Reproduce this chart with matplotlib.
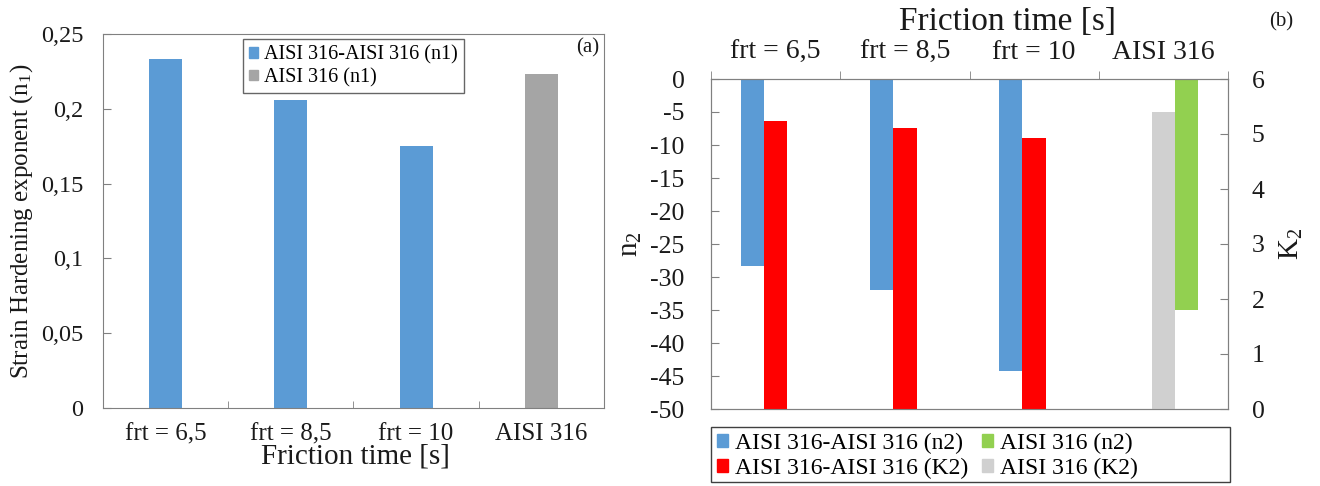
import matplotlib
matplotlib.use("Agg")
import matplotlib.pyplot as plt
from matplotlib.patches import Patch, Rectangle
from matplotlib.ticker import FuncFormatter

plt.rcParams["font.family"] = ["Liberation Serif", "DejaVu Serif"]
plt.rcParams["mathtext.default"] = "regular"
plt.rcParams["axes.unicode_minus"] = False

categories = ["frt = 6,5", "frt = 8,5", "frt = 10", "AISI 316"]

# (a) strain hardening exponent n1
n1_joint = [0.233, 0.206, 0.175]
n1_base = [0.223]

# (b) n2 (left axis) and K2 (right axis)
n2_joint = [-28.4, -31.9, -44.2]
n2_base = [-35.0]
k2_joint = [5.23, 5.11, 4.93]
k2_base = [5.40]

BLUE = "#5b9bd5"
GRAY = "#a5a5a5"
RED = "#ff0000"
GREEN = "#92d050"
LGRAY = "#d0d0d0"
SPINE = "#808080"
TXT = "#1a1a1a"

W, H = 1320, 486
fig = plt.figure(figsize=(W / 100, H / 100), dpi=100)


def box(l, t, r, b):
    return [l / W, 1 - b / H, (r - l) / W, (b - t) / H]


def comma(v, pos):
    return ("%g" % v).replace(".", ",")


# ---------- panel (a) ----------
ax1 = fig.add_axes(box(103, 34, 604, 408))
x = list(range(len(categories)))
ax1.bar(x[:3], n1_joint, width=0.265, color=BLUE)
ax1.bar(x[3:], n1_base, width=0.265, color=GRAY)
ax1.set_xlim(-0.5, 3.5)
ax1.set_ylim(0, 0.25)
ax1.set_yticks([0, 0.05, 0.1, 0.15, 0.2, 0.25])
ax1.yaxis.set_major_formatter(FuncFormatter(comma))
ax1.set_xticks(x)
ax1.set_xticklabels(categories)
ax1.set_xticks([0.5, 1.5, 2.5], minor=True)
ax1.tick_params(axis="x", which="major", length=0, pad=11, labelsize=18, labelcolor=TXT)
ax1.tick_params(axis="x", which="minor", direction="in", length=5, color=SPINE)
ax1.tick_params(axis="y", direction="in", length=6, color=SPINE, pad=14,
                labelsize=17.5, labelcolor=TXT)
for s in ax1.spines.values():
    s.set_color(SPINE)
ax1.set_ylabel("Strain Hardening exponent (n$_1$)", fontsize=18, color=TXT)
ax1.yaxis.set_label_coords(-(103 - 35) / 501, 0.5)
fig.text(355 / W, 1 - 456 / H, "Friction time [s]", fontsize=21, color=TXT,
         ha="center", va="center")
fig.text(588 / W, 1 - 48 / H, "(a)", fontsize=15, color=TXT, ha="center", va="center")

leg1 = ax1.legend(handles=[Patch(color=BLUE, label="AISI 316-AISI 316 (n1)"),
                           Patch(color=GRAY, label="AISI 316 (n1)")],
                  loc="upper left", bbox_to_anchor=(243 / W, 1 - 39 / H),
                  bbox_transform=fig.transFigure, borderaxespad=0,
                  fontsize=14.5, fancybox=False, handlelength=0.45,
                  handleheight=0.45, handletextpad=0.3, labelspacing=0.18,
                  borderpad=0.3)
leg1.get_frame().set_edgecolor("#404040")
leg1.get_frame().set_linewidth(1.0)

# ---------- panel (b) ----------
ax2 = fig.add_axes(box(711, 79, 1228, 409))
ax3 = ax2.twinx()
w = 0.18
ax2.bar([i - w for i in x[:3]], n2_joint, width=w, color=BLUE)
ax2.bar([i + w for i in x[3:]], n2_base, width=w, color=GREEN)
ax3.bar(x[:3], k2_joint, width=w, color=RED)
ax3.bar(x[3:], k2_base, width=w, color=LGRAY)
ax2.set_xlim(-0.5, 3.5)
ax2.set_ylim(-50, 0)
ax3.set_ylim(0, 6)
ax2.set_yticks(range(-50, 1, 5))
ax3.set_yticks(range(0, 7))

ax2.xaxis.tick_top()
ax2.set_xticks(x)
ax2.set_xticklabels(categories)
ax2.set_xticks([-0.5, 0.5, 1.5, 2.5, 3.5], minor=True)
ax2.tick_params(axis="x", which="major", length=0, top=True, bottom=False,
                labeltop=True, labelbottom=False, pad=10, labelsize=20, labelcolor=TXT)
ax2.tick_params(axis="x", which="minor", direction="out", length=6, top=True,
                bottom=False, color=SPINE)
ax2.tick_params(axis="y", direction="in", length=6, color=SPINE, pad=19,
                labelsize=18.5, labelcolor=TXT)
ax3.tick_params(axis="y", direction="in", length=6, color=SPINE, pad=17,
                labelsize=18.5, labelcolor=TXT)
for a in (ax2, ax3):
    for s in a.spines.values():
        s.set_color(SPINE)

ax2.set_ylabel("n$_2$", fontsize=21, color=TXT)
ax2.yaxis.set_label_coords(-(711 - 644) / 517, 0.5)
ax3.set_ylabel("K$_2$", fontsize=21, color=TXT)
ax3.yaxis.set_label_coords(1 + (1278 - 1228) / 517, 0.5)
fig.text(1007 / W, 1 - 22 / H, "Friction time [s]", fontsize=24, color=TXT,
         ha="center", va="center")
fig.text(1281 / W, 1 - 22 / H, "(b)", fontsize=15, color=TXT, ha="center", va="center")

leg2 = ax3.legend(handles=[Patch(color=BLUE, label="AISI 316-AISI 316 (n2)"),
                           Patch(color=RED, label="AISI 316-AISI 316 (K2)"),
                           Patch(color=GREEN, label="AISI 316 (n2)"),
                           Patch(color=LGRAY, label="AISI 316 (K2)")],
                  ncol=2, loc="upper left",
                  bbox_to_anchor=(711 / W, 1 - 427 / H),
                  bbox_transform=fig.transFigure, borderaxespad=0, frameon=False,
                  fontsize=17, handlelength=0.45, handleheight=0.45,
                  handletextpad=0.3, labelspacing=0.15, borderpad=0.25,
                  columnspacing=0.6)
fig.patches.append(Rectangle((711 / W, 1 - 482 / H), 519 / W, 55 / H,
                             transform=fig.transFigure, fill=False,
                             edgecolor="#404040", linewidth=1.0))

fig.savefig("out.png", dpi=100)
